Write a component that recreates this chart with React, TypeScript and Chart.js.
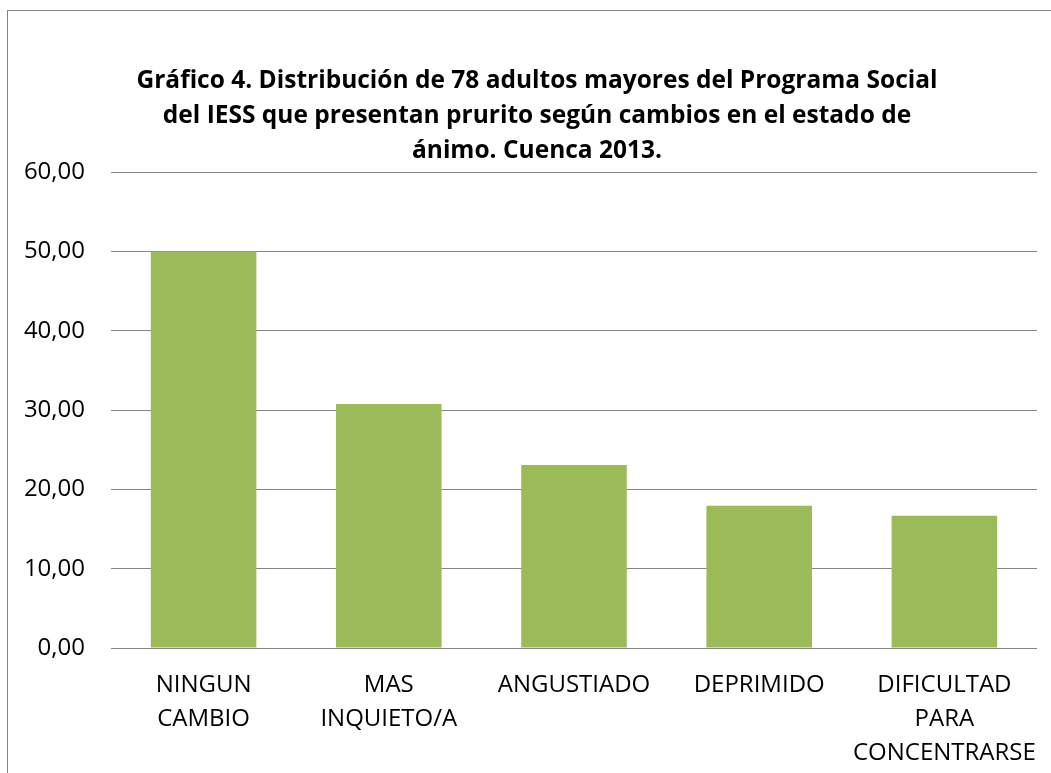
import React, { useEffect, useRef } from "react";
import { Chart, registerables } from "chart.js";

Chart.register(...registerables);

const categories: (string | string[])[] = [
  ["NINGUN", "CAMBIO"],
  ["MAS", "INQUIETO/A"],
  "ANGUSTIADO",
  "DEPRIMIDO",
  ["DIFICULTAD", "PARA", "CONCENTRARSE"],
];
const values: number[] = [50.0, 30.77, 23.08, 17.95, 16.67];
const titleLines: string[] = [
  "Gráfico 4. Distribución de 78 adultos mayores del Programa Social",
  "del IESS que presentan prurito según cambios en el estado de",
  "ánimo. Cuenca 2013.",
];
const yMin = 0;
const yMax = 60;
const yStep = 10;

const shiftTitle = {
  id: "shiftTitle",
  beforeDraw(chart: any) {
    const t = chart.titleBlock;
    if (t) {
      t.left = 23;
      t.right = chart.width;
    }
  },
};

export default function App() {
  const ref = useRef<HTMLCanvasElement | null>(null);
  useEffect(() => {
    document.body.style.margin = "0";
    const ctx = ref.current!;
    const chart = new Chart(ctx, {
      type: "bar",
      data: {
        labels: categories,
        datasets: [
          {
            data: values,
            backgroundColor: "#9BBB59",
            borderWidth: 0,
            barPercentage: 0.57,
            categoryPercentage: 1,
          },
        ],
      },
      plugins: [shiftTitle],
      options: {
        responsive: false,
        animation: false,
        layout: { padding: { left: 0, right: 14, top: 0, bottom: 0 } },
        plugins: {
          legend: { display: false },
          tooltip: { enabled: false },
          title: {
            display: true,
            text: titleLines,
            color: "#000",
            font: { family: "Open Sans", size: 24.5, weight: "bold", lineHeight: 1.43 },
            padding: { top: 63, bottom: 4 },
          },
        },
        scales: {
          x: {
            grid: { display: false, drawTicks: false },
            border: { display: false },
            ticks: {
              color: "#000",
              font: { family: "Open Sans", size: 24, lineHeight: 1.42 },
              maxRotation: 0,
              autoSkip: false,
              padding: 20,
            },
            afterFit: (s: any) => {
              s.height = 125;
              s.paddingLeft = 0;
              s.paddingRight = 0;
            },
          },
          y: {
            min: yMin,
            max: yMax,
            grid: { color: "#868686", lineWidth: 1, drawTicks: false },
            border: { display: false },
            ticks: {
              stepSize: yStep,
              color: "#000",
              font: { family: "Open Sans", size: 24 },
              padding: 26,
              callback: (v: any) => Number(v).toFixed(2).replace(".", ","),
            },
            afterFit: (s: any) => {
              s.width = 111;
            },
          },
        },
      },
    });
    return () => chart.destroy();
  }, []);
  return (
    <div style={{ position: "relative", width: 1051, height: 773, overflow: "hidden", background: "#fff" }}>
      <div
        style={{
          position: "absolute",
          left: 7,
          top: 10,
          width: 1100,
          height: 800,
          borderLeft: "1.5px solid #868686",
          borderTop: "1.5px solid #868686",
        }}
      />
      <canvas ref={ref} width={1051} height={773} style={{ position: "absolute", left: 0, top: 0 }} />
    </div>
  );
}
